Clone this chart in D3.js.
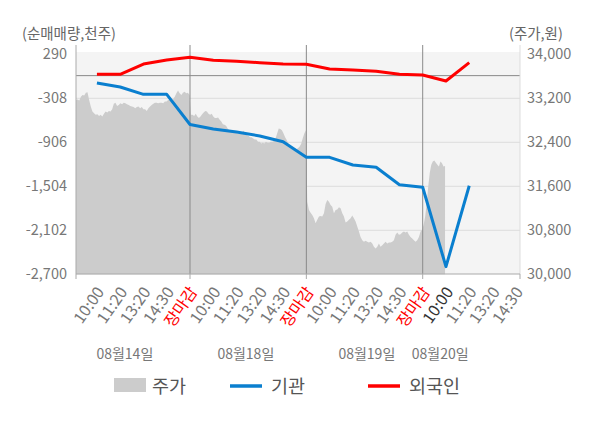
<!DOCTYPE html>
<html><head><meta charset="utf-8">
<script src="https://cdn.jsdelivr.net/npm/d3@7"></script>
<style>body{margin:0;background:#fff;} text{font-family:"Noto Sans CJK KR","Noto Sans",sans-serif;}</style>
</head><body><svg id="c" width="600" height="428"></svg>
<script>
// ---- data ----
const dates = ["08월14일","08월18일","08월19일","08월20일"];
const dayTimeLabels = ["10:00","11:20","13:20","14:30","장마감"];
const lastDayTimeLabels = ["10:00","11:20","13:20","14:30"];
const leftTicks = [290,-308,-906,-1504,-2102,-2700];
const rightTicks = [34000,33200,32400,31600,30800,30000];
const seriesNames = ["주가","기관","외국인"];

// institution / foreign net volume (thousand shares) at label slots
const institution = [-100,-154,-254,-254,-664, -725,-766,-820,-898,-1110, -1110,-1214,-1246,-1482,-1517, -2596,-1496];
const foreign =     [18,18,158,213,249, 208,195,176,158,154, 90,77,59,18,8, -73,176];

// intraday price per day
const priceDay1 = [33170,33180,33160,33230,33260,33250,33300,33310,33170,33050,32960,32930,32900,32910,32880,32900,32870,32920,32960,32940,32970,32960,33000,33100,33120,33060,33080,33110,33090,33120,33110,33090,33080,33060,33050,33040,33020,33040,33050,33020,33040,33000,33000,32970,33020,33050,33080,33100,33120,33120,33110,33120,33120,33110,33140,33140,33170,33180,33170,33180,33230,33290,33340,33290,33260,33300,33320,33290,33300,33260];
const priceDay2 = [32900,32900,32880,32920,32870,32840,32870,32910,32940,32970,32960,32920,32900,32920,32870,32840,32840,32850,32810,32780,32730,32720,32700,32650,32620,32610,32620,32590,32580,32560,32550,32560,32580,32610,32560,32530,32520,32490,32490,32470,32450,32450,32410,32410,32380,32390,32380,32410,32390,32390,32410,32410,32430,32470,32560,32650,32640,32620,32560,32490,32440,32380,32320,32290,32260,32260,32270,32290,32320,32370,32470,32560,32620];
const priceDay3 = [31320,31170,31120,31080,31020,30930,30990,31050,31060,31050,31110,31280,31350,31320,31260,31230,31110,31170,31180,31220,31200,31110,31050,30940,30960,30990,31020,31070,31020,30960,30870,30780,30680,30620,30590,30610,30590,30580,30590,30560,30500,30470,30500,30560,30500,30530,30560,30590,30560,30580,30580,30590,30620,30720,30760,30720,30730,30760,30780,30760,30780,30720,30680,30650,30620,30590,30620,30680,30780,30810];
const priceDay4 = [30900,31050,31290,31590,31840,31990,32050,32070,32030,31990,31960,32050,32020,31960,31970];

// ---- layout ----
const L = 76, R = 520, T = 52, B = 274;
const svg = d3.select("#c");
const x = d3.scaleLinear().domain([5,15]).range([190,422.7]);
const yL = d3.scaleLinear().domain([-2700,290]).range([274.3,54.3]);
const yR = d3.scaleLinear().domain([30000,34000]).range([274.3,54.3]);
const fmt = d3.formatLocale({decimal:".",thousands:",",grouping:[3],currency:["",""],minus:"-"}).format(",");

svg.append("rect").attr("x",L).attr("y",T).attr("width",R-L).attr("height",B-T).attr("fill","#f4f4f4");

// grid
svg.append("g").selectAll("line").data(leftTicks.slice(1,-1)).join("line")
  .attr("x1",L).attr("x2",R).attr("y1",d=>yL(d)).attr("y2",d=>yL(d))
  .attr("stroke","#dcdcdc").attr("stroke-width",1);

// price area
const priceDays = [priceDay1,priceDay2,priceDay3,priceDay4];
const pricePts = [];
priceDays.forEach((arr,d)=>{
  const s0 = d*5 + (d===0?0.1:0.04);
  const s1 = d*5 + (d===3?0.96:4.98);
  arr.forEach((v,i)=>pricePts.push({s: s0 + (s1-s0)*i/(arr.length-1), v}));
});
svg.append("path").datum(pricePts)
  .attr("d", d3.area().x(d=>x(d.s)).y0(yR(30000)).y1(d=>yR(d.v)))
  .attr("fill","#cccccc");

// zero line
svg.append("line").attr("x1",L).attr("x2",R).attr("y1",yL(0)).attr("y2",yL(0))
  .attr("stroke","#888").attr("stroke-width",1);

// day dividers
svg.append("g").selectAll("line").data([5,10,15]).join("line")
  .attr("x1",d=>x(d)).attr("x2",d=>x(d)).attr("y1",45).attr("y2",B)
  .attr("stroke","#8a8a8a").attr("stroke-width",1);

// frame lines
svg.append("line").attr("x1",L).attr("x2",L).attr("y1",45).attr("y2",B).attr("stroke","#aaa");
svg.append("line").attr("x1",R).attr("x2",R).attr("y1",45).attr("y2",B).attr("stroke","#ddd");
svg.append("line").attr("x1",L).attr("x2",R).attr("y1",B).attr("y2",B).attr("stroke","#aaa");
svg.append("g").selectAll("line").data([x.invert(L),5,10,15,x.invert(R)]).join("line")
  .attr("x1",d=>x(d)).attr("x2",d=>x(d)).attr("y1",B).attr("y2",B+5).attr("stroke","#aaa");

// lines
const slots = institution.map((_,i)=>i+1);
const line = d3.line().x((d,i)=>x(slots[i])).y(d=>yL(d));
svg.append("path").datum(institution).attr("d",line).attr("fill","none")
  .attr("stroke","#0a7fcf").attr("stroke-width",3).attr("stroke-linejoin","round");
svg.append("path").datum(foreign).attr("d",line).attr("fill","none")
  .attr("stroke","#ff0000").attr("stroke-width",3).attr("stroke-linejoin","round");

// y axes labels
const gl = svg.append("g").attr("transform",`translate(${L},0)`)
  .call(d3.axisLeft(yL).tickValues(leftTicks).tickFormat(fmt).tickSize(0).tickPadding(9));
const gr = svg.append("g").attr("transform",`translate(${R},0)`)
  .call(d3.axisRight(yR).tickValues(rightTicks).tickFormat(fmt).tickSize(0).tickPadding(7));
[gl,gr].forEach(g=>{
  g.select(".domain").remove();
  g.selectAll("text").attr("fill","#777").attr("font-size","14.5px")
   .attr("font-family",'"Noto Sans CJK KR","Noto Sans",sans-serif');
});

svg.append("text").attr("x",22).attr("y",39).attr("font-size","14.5px").attr("fill","#666").text("(순매매량,천주)");
svg.append("text").attr("x",509).attr("y",39).attr("font-size","14.5px").attr("fill","#666").text("(주가,원)");

// time labels
const tl = [];
for(let d=0; d<4; d++){
  const labs = d<3 ? dayTimeLabels : lastDayTimeLabels;
  labs.forEach((t,k)=>tl.push({s:d*5+k+1, t, cur: d===3 && k===0}));
}
svg.append("g").selectAll("text").data(tl).join("text")
  .attr("transform",d=>`translate(${x(d.s)+8},292) rotate(-55)`)
  .attr("text-anchor","end").attr("font-size","16px")
  .attr("fill",d=>d.t==="장마감"?"#ff0000":(d.cur?"#333":"#777"))
  .text(d=>d.t);

// date labels
const dateOffsets = [2.2,2.4,2.6,0.75];
svg.append("g").selectAll("text").data(dates).join("text")
  .attr("x",(d,i)=>x(i*5+dateOffsets[i])).attr("y",359)
  .attr("text-anchor","middle").attr("font-size","14px").attr("fill","#777").text(d=>d);

// legend
const lg = svg.append("g");
lg.append("rect").attr("x",114).attr("y",378).attr("width",32).attr("height",14).attr("fill","#cccccc");
lg.append("line").attr("x1",230).attr("x2",262).attr("y1",386).attr("y2",386).attr("stroke","#0a7fcf").attr("stroke-width",3.5);
lg.append("line").attr("x1",368).attr("x2",400).attr("y1",386).attr("y2",386).attr("stroke","#ff0000").attr("stroke-width",3.5);
[[152,seriesNames[0]],[271,seriesNames[1]],[409,seriesNames[2]]].forEach(([lx,t])=>{
  lg.append("text").attr("x",lx).attr("y",392.5).attr("font-size","18.5px").attr("fill","#555").text(t);
});
</script></body></html>
